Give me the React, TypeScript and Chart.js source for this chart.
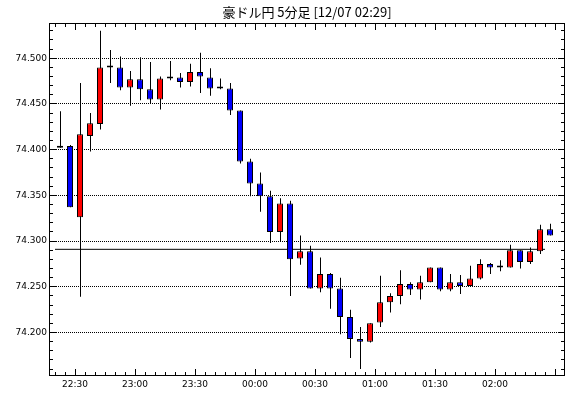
import React, { useEffect, useRef } from "react";
import { Chart, registerables } from "chart.js";

Chart.register(...registerables);

// ---------- data ----------
const chartTitle = "豪ドル円 5分足 [12/07 02:29]";

const times = [
  "22:20", "22:25", "22:30", "22:35", "22:40", "22:45", "22:50", "22:55",
  "23:00", "23:05", "23:10", "23:15", "23:20", "23:25", "23:30", "23:35",
  "23:40", "23:45", "23:50", "23:55", "00:00", "00:05", "00:10", "00:15",
  "00:20", "00:25", "00:30", "00:35", "00:40", "00:45", "00:50", "00:55",
  "01:00", "01:05", "01:10", "01:15", "01:20", "01:25", "01:30", "01:35",
  "01:40", "01:45", "01:50", "01:55", "02:00", "02:05", "02:10", "02:15",
  "02:20", "02:25",
];

const opens = [
  74.402, 74.404, 74.326, 74.415, 74.428, 74.490, 74.490, 74.468,
  74.477, 74.466, 74.455, 74.478, 74.479, 74.474, 74.485, 74.479,
  74.467, 74.467, 74.443, 74.387, 74.363, 74.349, 74.310, 74.341,
  74.281, 74.289, 74.248, 74.264, 74.248, 74.217, 74.193, 74.190,
  74.211, 74.233, 74.240, 74.253, 74.247, 74.255, 74.271, 74.247,
  74.255, 74.251, 74.259, 74.275, 74.271, 74.271, 74.290, 74.277,
  74.289, 74.313,
];

const highs = [
  74.442, 74.405, 74.473, 74.440, 74.530, 74.509, 74.502, 74.486,
  74.501, 74.496, 74.480, 74.497, 74.484, 74.494, 74.506, 74.489,
  74.478, 74.473, 74.443, 74.390, 74.375, 74.355, 74.347, 74.344,
  74.306, 74.295, 74.282, 74.265, 74.260, 74.225, 74.206, 74.210,
  74.262, 74.243, 74.268, 74.255, 74.262, 74.271, 74.271, 74.264,
  74.263, 74.273, 74.280, 74.276, 74.279, 74.296, 74.290, 74.293,
  74.318, 74.319,
];

const lows = [
  74.402, 74.337, 74.239, 74.398, 74.422, 74.473, 74.465, 74.448,
  74.454, 74.450, 74.444, 74.476, 74.468, 74.469, 74.462, 74.459,
  74.466, 74.438, 74.385, 74.349, 74.332, 74.298, 74.300, 74.240,
  74.274, 74.248, 74.244, 74.226, 74.198, 74.172, 74.160, 74.189,
  74.206, 74.222, 74.231, 74.241, 74.236, 74.255, 74.245, 74.245,
  74.242, 74.251, 74.258, 74.264, 74.267, 74.271, 74.270, 74.275,
  74.286, 74.306,
];

const closes = [
  74.404, 74.337, 74.417, 74.429, 74.490, 74.490, 74.468, 74.477,
  74.466, 74.455, 74.478, 74.478, 74.474, 74.485, 74.480, 74.467,
  74.467, 74.443, 74.387, 74.363, 74.349, 74.310, 74.341, 74.280,
  74.289, 74.248, 74.264, 74.248, 74.217, 74.193, 74.190, 74.210,
  74.233, 74.240, 74.253, 74.247, 74.255, 74.271, 74.247, 74.255,
  74.251, 74.259, 74.275, 74.271, 74.271, 74.290, 74.277, 74.289,
  74.313, 74.306,
];

const xTickLabels = ["22:30", "23:00", "23:30", "00:00", "00:30", "01:00", "01:30", "02:00"];
const yTickValues = [74.2, 74.25, 74.3, 74.35, 74.4, 74.45, 74.5];
const refLevel = 74.291;

const yMin = 74.1535;
const yMax = 74.5375;

// ---------- helpers ----------
const START = 22 * 60 + 20; // first bar time (minutes of day)
const BAR_MINUTES = 5;
const toMin = (s: string) => {
  const [h, m] = s.split(":").map(Number);
  return (h * 60 + m - START + 1440) % 1440;
};
const xMin = -2.5;
const xMax = 254.5;

const UP = "#ff0000";
const DOWN = "#0000ff";
const FLAT = "#000000";

const AXIS_FONT = { family: "'DejaVu Sans', sans-serif", size: 9 };

const framePlugin = {
  id: "frameTicks",
  afterDraw(chart: any) {
    const { ctx, chartArea: a, scales } = chart;
    const x = scales.x;
    const y = scales.y;
    ctx.save();
    ctx.fillStyle = "#000";
    const L = Math.floor(a.left) - 1;
    const R = Math.floor(a.right);
    const T = Math.floor(a.top) - 1;
    const B = Math.floor(a.bottom);
    ctx.fillRect(L, T, R - L + 1, 1);
    ctx.fillRect(L, B, R - L + 1, 1);
    ctx.fillRect(L, T, 1, B - T + 1);
    ctx.fillRect(R, T, 1, B - T + 1);
    const majorX = xTickLabels.map(toMin);
    for (let t = Math.ceil(x.min / BAR_MINUTES) * BAR_MINUTES; t <= x.max; t += BAR_MINUTES) {
      const px = Math.round(x.getPixelForValue(t));
      const major = majorX.some((m) => ((t - m) % 30 + 30) % 30 === 0);
      const len = major ? 6 : 3;
      ctx.fillRect(px, B - len, 1, len);
      ctx.fillRect(px, T + 1, 1, len);
    }
    for (let k = Math.ceil(y.min * 100 - 1e-6); k <= y.max * 100 + 1e-6; k++) {
      const py = Math.round(y.getPixelForValue(k / 100) - 0.5);
      const len = k % 5 === 0 ? 6 : 3;
      ctx.fillRect(L + 1, py, len, 1);
      ctx.fillRect(R - len, py, len, 1);
    }
    ctx.restore();
  },
};

export default function App() {
  const ref = useRef<HTMLCanvasElement | null>(null);

  useEffect(() => {
    if (!ref.current) return;
    const bodyColors = opens.map((o, i) =>
      closes[i] > o ? UP : closes[i] < o ? DOWN : FLAT
    );
    const chart = new Chart(ref.current, {
      type: "bar",
      data: {
        datasets: [
          {
            type: "bar",
            label: "body",
            xAxisID: "x",
            yAxisID: "y",
            data: times.map((t, i) => ({ x: toMin(t) + BAR_MINUTES / 2, y: [opens[i], closes[i]] })) as any,
            backgroundColor: bodyColors,
            borderColor: "#000",
            borderWidth: 1,
            borderSkipped: false,
            barThickness: 6,
            minBarLength: 2,
            grouped: false,
            inflateAmount: 0,
          } as any,
          {
            type: "bar",
            label: "wick",
            xAxisID: "xw",
            yAxisID: "y",
            data: times.map((t, i) => ({ x: toMin(t) + BAR_MINUTES / 2, y: [lows[i], highs[i]] })) as any,
            backgroundColor: "#000",
            borderWidth: 0,
            barThickness: 1,
            grouped: false,
            inflateAmount: 0,
          } as any,
          {
            type: "line",
            label: "ref",
            xAxisID: "x",
            yAxisID: "y",
            data: [
              { x: toMin(times[0]), y: refLevel },
              { x: toMin(times[times.length - 1]), y: refLevel },
            ] as any,
            borderColor: "#000",
            borderWidth: 1,
            pointRadius: 0,
            fill: false,
          } as any,
        ],
      },
      options: {
        responsive: false,
        devicePixelRatio: 1,
        animation: false,
        events: [],
        layout: { padding: { left: 0, right: 6, top: 0, bottom: 0 } },
        plugins: {
          legend: { display: false },
          tooltip: { enabled: false },
          title: {
            display: true,
            text: chartTitle,
            fullSize: false,
            color: "#000",
            font: { family: "'Noto Sans CJK JP', sans-serif", size: 13, weight: "normal", lineHeight: 1.2 },
            padding: { top: 4.7, bottom: 3.7 },
          },
        },
        scales: {
          x: {
            type: "linear",
            position: "bottom",
            min: xMin,
            max: xMax,
            offset: false,
            afterFit: (s: any) => { s.height = 23; },
            afterBuildTicks: (s: any) => { s.ticks = xTickLabels.map((l) => ({ value: toMin(l) })); },
            grid: { display: false, drawTicks: false },
            border: { display: false },
            ticks: {
              autoSkip: false,
              maxRotation: 0,
              padding: 4,
              color: "#000",
              font: AXIS_FONT,
              callback: (_v: any, i: number) => xTickLabels[i],
            },
          },
          xw: {
            type: "linear",
            display: false,
            min: xMin - 0.25,
            max: xMax - 0.25,
            offset: false,
          },
          y: {
            type: "linear",
            position: "left",
            min: yMin,
            max: yMax,
            afterFit: (s: any) => { s.width = 50; },
            afterBuildTicks: (s: any) => { s.ticks = yTickValues.map((v) => ({ value: v })); },
            grid: { color: "#000", lineWidth: 1, drawTicks: false },
            border: { display: false, dash: [1, 1] },
            ticks: {
              padding: 3,
              color: "#000",
              font: AXIS_FONT,
              callback: (v: any) => Number(v).toFixed(3),
            },
          },
        } as any,
      },
      plugins: [framePlugin],
    });
    return () => chart.destroy();
  }, []);

  return (
    <div style={{ position: "absolute", left: 0, top: 0, width: 570, height: 398, background: "#fff" }}>
      <canvas ref={ref} width={570} height={398} style={{ width: 570, height: 398, display: "block" }} />
    </div>
  );
}
